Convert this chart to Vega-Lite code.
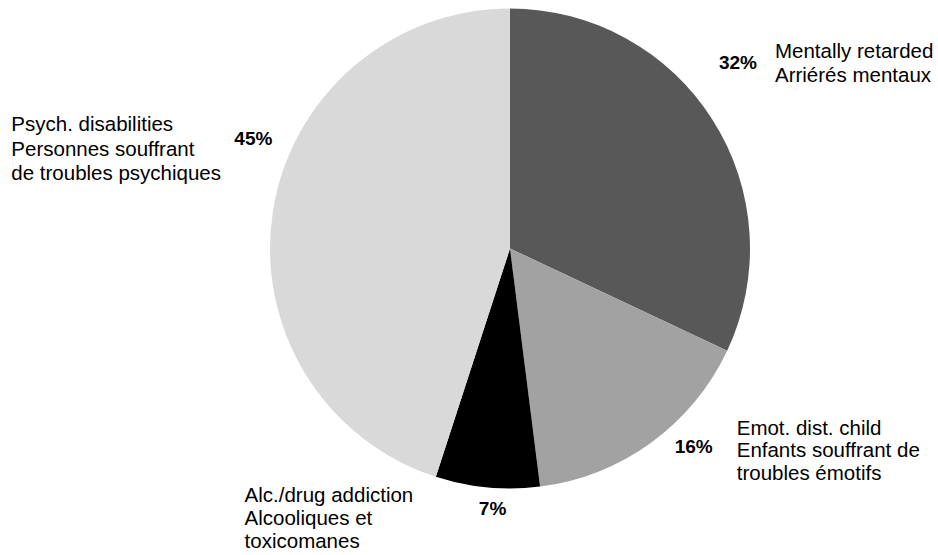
{
  "$schema": "https://vega.github.io/schema/vega-lite/v6.json",
  "width": 856,
  "height": 497,
  "autosize": "none",
  "padding": {"left": 82, "top": 0, "right": 0, "bottom": 58},
  "background": "white",
  "view": {"stroke": null},
  "data": {
    "values": [
      {"category": "Mentally retarded", "label": "Mentally retarded\nArriérés mentaux", "pct": "32%", "share": 32, "order": 1},
      {"category": "Emot. dist. child", "label": "Emot. dist. child\nEnfants souffrant de\ntroubles émotifs", "pct": "16%", "share": 16, "order": 2},
      {"category": "Alc./drug addiction", "label": "Alc./drug addiction\nAlcooliques et\ntoxicomanes", "pct": "7%", "share": 7, "order": 3},
      {"category": "Psych. disabilities", "label": "Psych. disabilities\nPersonnes souffrant\nde troubles psychiques", "pct": "45%", "share": 45, "order": 4}
    ]
  },
  "encoding": {
    "theta": {"field": "share", "type": "quantitative", "stack": true},
    "order": {"field": "order", "type": "quantitative"}
  },
  "layer": [
    {
      "mark": {"type": "arc", "outerRadius": 240, "stroke": null},
      "encoding": {
        "color": {
          "field": "category", "type": "nominal", "legend": null,
          "scale": {
            "domain": ["Mentally retarded", "Emot. dist. child", "Alc./drug addiction", "Psych. disabilities"],
            "range": ["#585858", "#a2a2a2", "#000000", "#d9d9d9"]
          }
        }
      }
    },
    {
      "mark": {"type": "text", "radius": 270, "dx": 0, "dy": -41, "align": "center", "baseline": "middle", "font": "Liberation Sans", "fontSize": 19, "fontWeight": "bold", "fill": "black"},
      "encoding": {"text": {"condition": {"test": "datum.category == 'Mentally retarded'", "field": "pct"}, "value": ""}}
    },
    {
      "mark": {"type": "text", "radius": 270, "dx": 10, "dy": -67, "align": "center", "baseline": "middle", "font": "Liberation Sans", "fontSize": 19, "fontWeight": "bold", "fill": "black"},
      "encoding": {"text": {"condition": {"test": "datum.category == 'Psych. disabilities'", "field": "pct"}, "value": ""}}
    },
    {
      "mark": {"type": "text", "radius": 270, "dx": 25, "dy": -20, "align": "center", "baseline": "middle", "font": "Liberation Sans", "fontSize": 19, "fontWeight": "bold", "fill": "black"},
      "encoding": {"text": {"condition": {"test": "datum.category == 'Emot. dist. child'", "field": "pct"}, "value": ""}}
    },
    {
      "mark": {"type": "text", "radius": 270, "dx": 8, "dy": -8, "align": "center", "baseline": "middle", "font": "Liberation Sans", "fontSize": 19, "fontWeight": "bold", "fill": "black"},
      "encoding": {"text": {"condition": {"test": "datum.category == 'Alc./drug addiction'", "field": "pct"}, "value": ""}}
    },
    {
      "mark": {"type": "text", "radius": 270, "dx": 37, "dy": -62, "align": "left", "baseline": "top", "lineBreak": "\n", "lineHeight": 24, "font": "Liberation Sans", "fontSize": 20.5, "fill": "black"},
      "encoding": {"text": {"condition": {"test": "datum.category == 'Mentally retarded'", "field": "label"}, "value": ""}}
    },
    {
      "mark": {"type": "text", "radius": 270, "dx": 68, "dy": -48, "align": "left", "baseline": "top", "lineBreak": "\n", "lineHeight": 22.5, "font": "Liberation Sans", "fontSize": 20.5, "fill": "black"},
      "encoding": {"text": {"condition": {"test": "datum.category == 'Emot. dist. child'", "field": "label"}, "value": ""}}
    },
    {
      "mark": {"type": "text", "radius": 270, "dx": -240, "dy": -31, "align": "left", "baseline": "top", "lineBreak": "\n", "lineHeight": 23, "font": "Liberation Sans", "fontSize": 20.5, "fill": "black"},
      "encoding": {"text": {"condition": {"test": "datum.category == 'Alc./drug addiction'", "field": "label"}, "value": ""}}
    },
    {
      "mark": {"type": "text", "radius": 270, "dx": -232, "dy": -91, "align": "left", "baseline": "top", "lineBreak": "\n", "lineHeight": 24.5, "font": "Liberation Sans", "fontSize": 20.5, "fill": "black"},
      "encoding": {"text": {"condition": {"test": "datum.category == 'Psych. disabilities'", "field": "label"}, "value": ""}}
    }
  ]
}
